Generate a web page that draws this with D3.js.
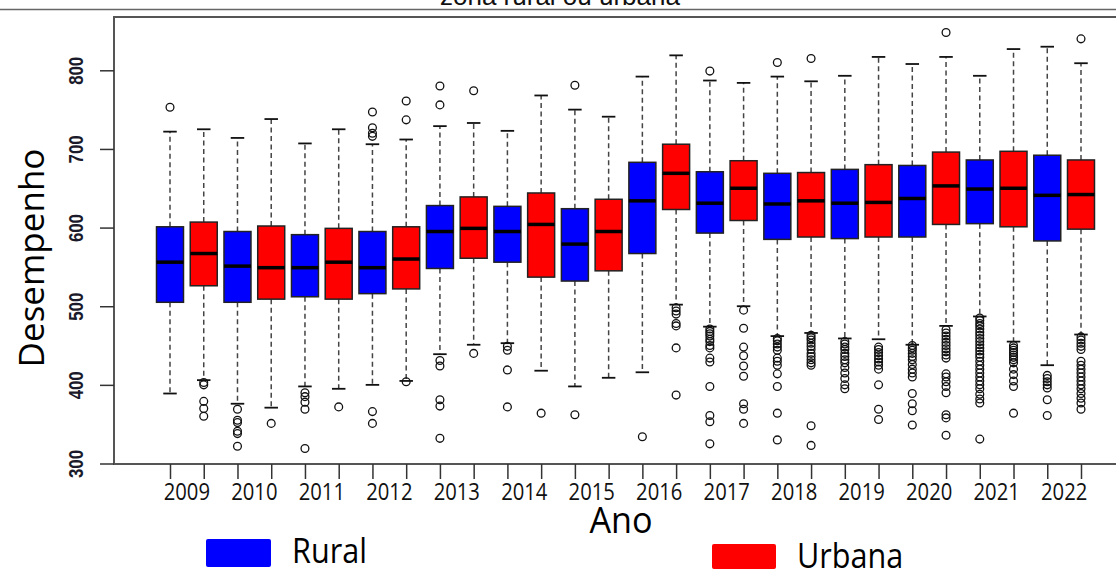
<!DOCTYPE html>
<html lang="pt">
<head>
<meta charset="UTF-8">
<title>Desempenho por zona rural ou urbana</title>
<script src="https://cdn.jsdelivr.net/npm/d3@7"></script>
<style>
  body { margin: 0; background: #fff; }
  svg { display: block; }
</style>
</head>
<body>
<script>
// dados
var years = ['2009', '2010', '2011', '2012', '2013', '2014', '2015',
             '2016', '2017', '2018', '2019', '2020', '2021', '2022'];
var yTicks = [300, 400, 500, 600, 700, 800];

var ruralLow  = [389, 376, 398, 400, 439, 453, 398, 416, 474, 462, 459, 451, 487, 425];
var ruralQ1   = [505, 505, 512, 516, 548, 556, 532, 567, 593, 585, 586, 588, 605, 583];
var ruralMed  = [556, 551, 549, 549, 595, 595, 579, 634, 631, 630, 631, 637, 649, 641];
var ruralQ3   = [601, 595, 591, 595, 628, 627, 624, 683, 671, 669, 674, 679, 686, 692];
var ruralHigh = [722, 714, 707, 706, 729, 723, 750, 792, 787, 792, 793, 808, 793, 830];
var ruralOut = [
  [753],
  [369, 355, 352, 341, 338, 322],
  [390, 385, 378, 369, 319],
  [747, 727, 720, 716, 366, 351],
  [780, 756, 431, 424, 381, 373, 332],
  [449, 444, 419, 372],
  [781, 362],
  [334],
  [799, 471, 468, 465, 462, 458, 455, 450, 447, 434, 429, 398, 361, 353, 325],
  [810, 459, 456, 452, 448, 444, 434, 430, 425, 414, 398, 364, 330],
  [455, 452, 448, 445, 440, 436, 432, 428, 422, 415, 408, 400, 395],
  [450, 447, 444, 440, 436, 432, 426, 420, 415, 410, 389, 376, 367, 349],
  [485, 482, 478, 475, 471, 467, 463, 459, 455, 451, 447, 443, 439, 435, 430,
   425, 420, 415, 410, 405, 400, 395, 388, 382, 377, 331],
  [412, 408, 404, 400, 396, 381, 361]
];

var urbanLow  = [406, 371, 395, 405, 451, 418, 409, 502, 500, 466, 458, 475, 455, 464];
var urbanQ1   = [526, 509, 509, 522, 561, 537, 545, 623, 609, 588, 588, 604, 601, 598];
var urbanMed  = [567, 549, 556, 560, 599, 604, 595, 669, 650, 634, 632, 653, 650, 642];
var urbanQ3   = [607, 602, 599, 601, 639, 644, 636, 706, 685, 670, 680, 696, 697, 686];
var urbanHigh = [725, 738, 725, 712, 733, 768, 741, 819, 784, 786, 817, 817, 827, 809];
var urbanOut = [
  [403, 400, 379, 370, 360],
  [351],
  [372],
  [761, 737, 404],
  [774, 440],
  [364],
  [],
  [498, 494, 490, 478, 475, 447, 387],
  [495, 472, 448, 437, 424, 411, 376, 369, 351],
  [815, 463, 460, 457, 453, 449, 445, 440, 436, 432, 428, 425, 348, 323],
  [448, 445, 441, 437, 433, 429, 425, 420, 400, 369, 356],
  [848, 470, 466, 462, 458, 454, 450, 446, 442, 438, 434, 414, 410, 404, 398, 390, 362, 358, 336],
  [450, 447, 444, 441, 438, 435, 432, 428, 420, 413, 405, 398, 364],
  [840, 461, 457, 453, 449, 445, 430, 425, 420, 415, 410, 405, 400, 395, 389, 383, 377, 369]
];

var width = 1116;
var height = 571;
var svg = d3.select('body').append('svg')
        .attr('width', width)
        .attr('height', height)
        .style('font-family', '"Open Sans", sans-serif');

// posicao 1..28 (rural, urbana alternados)
var x = d3.scaleLinear().domain([1, 28]).range([170, 1081]);
var y = d3.scaleLinear().domain([300, 800]).range([463.5, 70.3]);
var plotLeft = 114, plotTop = 17, plotBottom = 464;
var step = x(2) - x(1);
var boxW = step * 0.8;

// montar as caixas
var boxes = [];
years.forEach(function (yr, i) {
    boxes.push({pos: 2 * i + 1, color: '#0000ff', low: ruralLow[i], q1: ruralQ1[i],
        med: ruralMed[i], q3: ruralQ3[i], high: ruralHigh[i], out: ruralOut[i]});
    boxes.push({pos: 2 * i + 2, color: '#ff0000', low: urbanLow[i], q1: urbanQ1[i],
        med: urbanMed[i], q3: urbanQ3[i], high: urbanHigh[i], out: urbanOut[i]});
});

// titulo (cortado no topo)
svg.append('text')
        .attr('x', 560)
        .attr('y', 5)
        .attr('text-anchor', 'middle')
        .style('font-family', '"Liberation Sans", Arial, sans-serif')
        .style('font-size', '26px')
        .attr('fill', '#111')
        .text('zona rural ou urbana');

svg.append('line')
        .attr('x1', 0).attr('x2', width)
        .attr('y1', 9.5).attr('y2', 9.5)
        .attr('stroke', '#666').attr('stroke-width', 1.5);

// moldura
svg.append('path')
        .attr('d', 'M' + width + ',' + plotTop + 'H' + plotLeft + 'V' + plotBottom + 'H' + width)
        .attr('fill', 'none')
        .attr('stroke', '#555')
        .attr('stroke-width', 2);

// eixo y
var yAxis = svg.append('g')
        .attr('transform', 'translate(' + plotLeft + ',0)')
        .call(d3.axisLeft(y).tickValues(yTicks).tickSize(14).tickPadding(0));
yAxis.select('.domain').remove();
yAxis.selectAll('line').attr('stroke', '#333').attr('stroke-width', 1.5);
yAxis.selectAll('text')
        .attr('x', null)
        .attr('dy', null)
        .attr('text-anchor', 'middle')
        .attr('transform', 'translate(-31,0) rotate(-90) scale(0.8,1)')
        .style('font-family', '"Liberation Sans", Arial, sans-serif')
        .style('font-size', '21px')
        .style('font-weight', 'bold')
        .attr('fill', '#1a1a2a');

// eixo x
var xAxis = svg.append('g')
        .attr('transform', 'translate(0,' + plotBottom + ')')
        .call(d3.axisBottom(x).tickValues(d3.range(1, 29)).tickSize(15).tickFormat(''));
xAxis.select('.domain').remove();
xAxis.selectAll('line').attr('stroke', '#333').attr('stroke-width', 1.5);

svg.append('g').selectAll('text')
        .data(years)
        .enter()
        .append('text')
        .attr('transform', function (d, i) {
            return 'translate(' + x(2 * i + 1.5) + ',500) scale(0.88,1)';
        })
        .attr('text-anchor', 'middle')
        .style('font-size', '23px')
        .attr('fill', '#111')
        .text(function (d) { return d; });

// rotulos dos eixos
svg.append('text')
        .attr('transform', 'translate(621,533) scale(0.95,1)')
        .attr('text-anchor', 'middle')
        .style('font-size', '36px')
        .attr('fill', '#000')
        .text('Ano');

svg.append('text')
        .attr('transform', 'translate(44,258) rotate(-90)')
        .attr('text-anchor', 'middle')
        .style('font-size', '35px')
        .attr('fill', '#000')
        .text('Desempenho');

// boxplots
var g = svg.selectAll('.box')
        .data(boxes)
        .enter()
        .append('g')
        .attr('class', 'box');

// bigodes
g.append('line')
        .attr('x1', function (d) { return x(d.pos); })
        .attr('x2', function (d) { return x(d.pos); })
        .attr('y1', function (d) { return y(d.q3); })
        .attr('y2', function (d) { return y(d.high); })
        .attr('stroke', '#444').attr('stroke-width', 1.5)
        .attr('stroke-dasharray', '5,3.5');
g.append('line')
        .attr('x1', function (d) { return x(d.pos); })
        .attr('x2', function (d) { return x(d.pos); })
        .attr('y1', function (d) { return y(d.q1); })
        .attr('y2', function (d) { return y(d.low); })
        .attr('stroke', '#444').attr('stroke-width', 1.5)
        .attr('stroke-dasharray', '5,3.5');
['high', 'low'].forEach(function (k) {
    g.append('line')
            .attr('x1', function (d) { return x(d.pos) - boxW / 4; })
            .attr('x2', function (d) { return x(d.pos) + boxW / 4; })
            .attr('y1', function (d) { return y(d[k]); })
            .attr('y2', function (d) { return y(d[k]); })
            .attr('stroke', '#111').attr('stroke-width', 1.8);
});

g.append('rect')
        .attr('x', function (d) { return x(d.pos) - boxW / 2; })
        .attr('width', boxW)
        .attr('y', function (d) { return y(d.q3); })
        .attr('height', function (d) { return y(d.q1) - y(d.q3); })
        .attr('fill', function (d) { return d.color; })
        .attr('stroke', '#222')
        .attr('stroke-width', 1.5);

g.append('line')
        .attr('x1', function (d) { return x(d.pos) - boxW / 2; })
        .attr('x2', function (d) { return x(d.pos) + boxW / 2; })
        .attr('y1', function (d) { return y(d.med); })
        .attr('y2', function (d) { return y(d.med); })
        .attr('stroke', '#000').attr('stroke-width', 3.5);

g.selectAll('circle')
        .data(function (d) {
            return d.out.map(function (v) { return {pos: d.pos, v: v}; });
        })
        .enter()
        .append('circle')
        .attr('cx', function (d) { return x(d.pos); })
        .attr('cy', function (d) { return y(d.v); })
        .attr('r', 3.9)
        .attr('fill', 'none')
        .attr('stroke', '#111')
        .attr('stroke-width', 1.3);

// legenda
var legend = [
    {label: 'Rural', color: '#0000ff', rx: 206, ry: 539, rw: 65, rh: 28, tx: 292, ty: 563},
    {label: 'Urbana', color: '#ff0000', rx: 712, ry: 544, rw: 64, rh: 25, tx: 797, ty: 568}
];
var lg = svg.selectAll('.legend')
        .data(legend)
        .enter()
        .append('g')
        .attr('class', 'legend');
lg.append('rect')
        .attr('x', function (d) { return d.rx; })
        .attr('y', function (d) { return d.ry; })
        .attr('width', function (d) { return d.rw; })
        .attr('height', function (d) { return d.rh; })
        .attr('rx', 2)
        .attr('fill', function (d) { return d.color; });
lg.append('text')
        .attr('transform', function (d) {
            return 'translate(' + d.tx + ',' + d.ty + ') scale(0.9,1)';
        })
        .style('font-size', '34px')
        .attr('fill', '#000')
        .text(function (d) { return d.label; });
</script>
</body>
</html>
